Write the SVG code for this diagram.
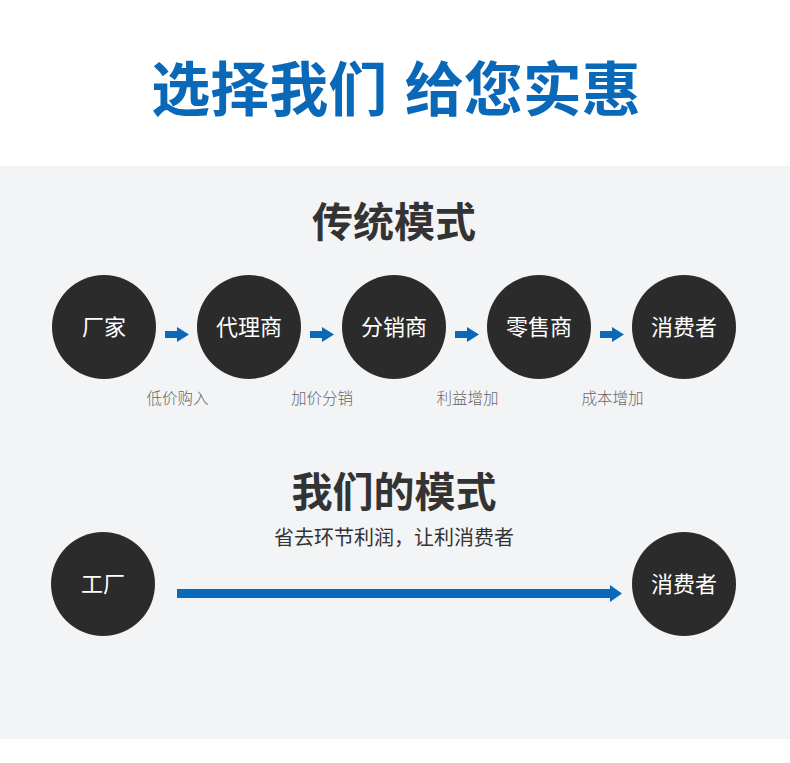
<svg xmlns="http://www.w3.org/2000/svg" width="790" height="763" viewBox="0 0 790 763">
<style>
.t{font-family:"Noto Sans CJK SC","Noto Sans",sans-serif;text-anchor:middle}
.c{fill:#2b2b2b}
.ct{font-size:22px;fill:#ffffff;font-weight:400}
.lb{font-size:15.5px;fill:#666666;font-weight:300}
.h{font-size:41px;fill:#333333;font-weight:700}
.arr{fill:#0a68b8}
</style>
<rect x="0" y="0" width="790" height="763" fill="#ffffff"/>
<rect x="0" y="166" width="790" height="573" fill="#f3f4f6"/>
<text class="t" x="396" y="111" style="font-size:59px;fill:#0a68b8;font-weight:600;word-spacing:4px">选择我们 给您实惠</text>
<text class="t h" x="394" y="237">传统模式</text>
<g id="n1"><circle class="c" cx="104" cy="327" r="52"/><text class="t ct" x="104" y="335">厂家</text></g>
<g id="n2"><circle class="c" cx="249" cy="327" r="52"/><text class="t ct" x="249" y="335">代理商</text></g>
<g id="n3"><circle class="c" cx="394" cy="327" r="52"/><text class="t ct" x="394" y="335">分销商</text></g>
<g id="n4"><circle class="c" cx="539" cy="327" r="52"/><text class="t ct" x="539" y="335">零售商</text></g>
<g id="n5"><circle class="c" cx="684" cy="327" r="52"/><text class="t ct" x="684" y="335">消费者</text></g>
<g id="connectors">
<path class="arr" d="M165 331H177V327L189 334.5L177 342V338H165Z"/>
<path class="arr" d="M310 331H322V327L334 334.5L322 342V338H310Z"/>
<path class="arr" d="M455 331H467V327L479 334.5L467 342V338H455Z"/>
<path class="arr" d="M600 331H612V327L624 334.5L612 342V338H600Z"/>
<path class="arr" d="M177 589H610V585L622 593.5L610 602V598H177Z"/>
</g>
<text class="t lb" x="177.5" y="404">低价购入</text>
<text class="t lb" x="322" y="404">加价分销</text>
<text class="t lb" x="467.5" y="404">利益增加</text>
<text class="t lb" x="612.5" y="404">成本增加</text>
<text class="t h" x="394" y="507">我们的模式</text>
<text class="t" x="394" y="545" style="font-size:20px;fill:#333333;font-weight:400">省去环节利润，让利消费者</text>
<g id="n6"><circle class="c" cx="103" cy="584" r="52"/><text class="t ct" x="103" y="592">工厂</text></g>
<g id="n7"><circle class="c" cx="684" cy="584" r="52"/><text class="t ct" x="684" y="592">消费者</text></g>
</svg>
